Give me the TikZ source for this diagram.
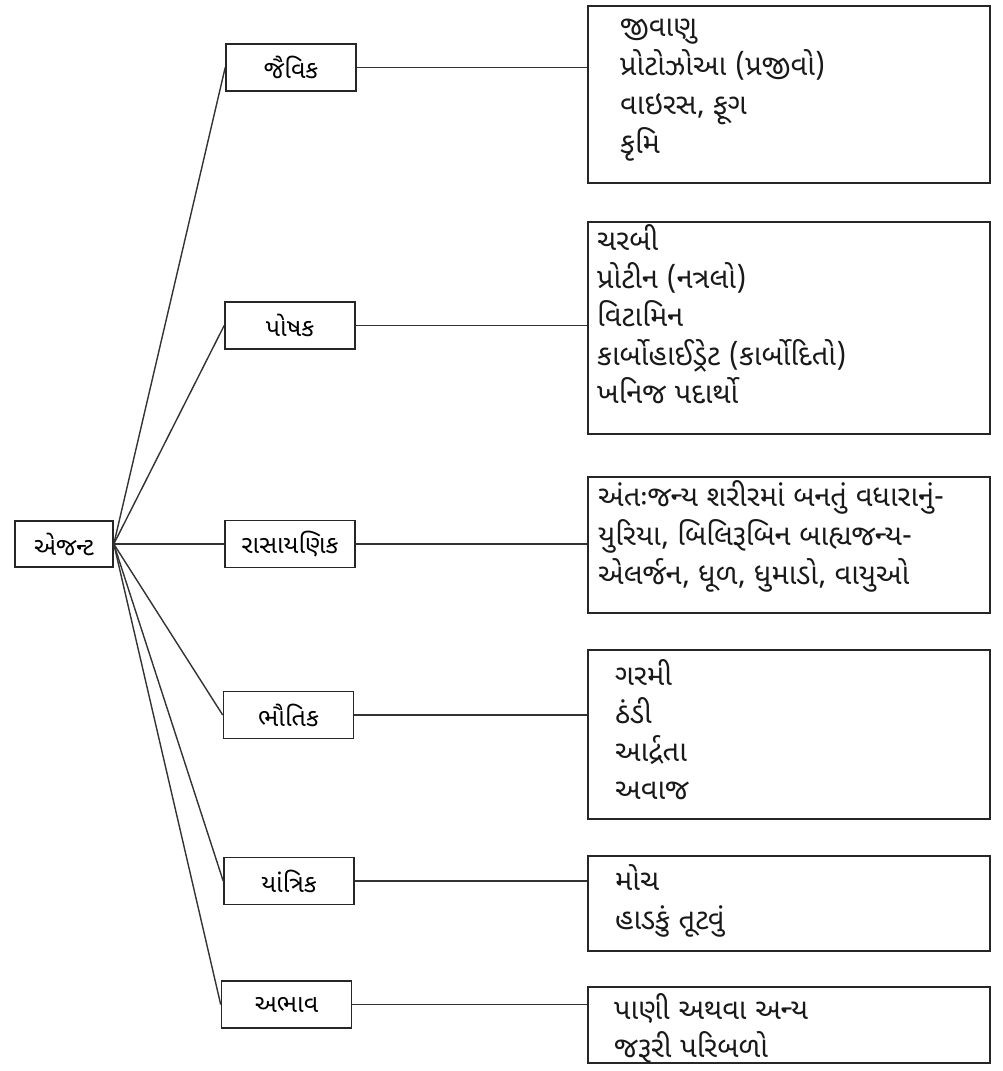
\documentclass[tikz,border=0pt]{standalone}
\usepackage{fontspec}
\newfontfamily\guj[Script=Gujarati]{Noto Sans Gujarati UI}
\begin{document}
\begin{tikzpicture}[x=1pt,y=-1pt,
  ink/.style={draw=black!85},
  catbox/.style={ink,line width=1.6pt,minimum width=130pt,minimum height=47pt,inner sep=0pt,font=\guj\fontsize{25}{30}\selectfont},
  listbox/.style={ink,line width=1.6pt,minimum width=402pt,inner sep=0pt},
  item/.style={anchor=base west,inner sep=0pt,font=\guj\fontsize{29}{34}\selectfont,text=black!90},
  link/.style={draw=black!80,line width=1.4pt}]
\useasboundingbox (0,0) rectangle (1002,1071);
\fill[white] (0,0) rectangle (1002,1071);
% agent
\node[catbox,minimum width=98pt,minimum height=46pt] (agent) at (64,544) {એજન્ટ};
% categories
\node[catbox] (c1) at (291,67.5) {જૈવિક};
\node[catbox] (c2) at (290,325.5) {પોષક};
\node[catbox] (c3) at (290,544) {રાસાયણિક};
\node[catbox] (c4) at (288.5,715) {ભૌતિક};
\node[catbox] (c5) at (289,881) {યાંત્રિક};
\node[catbox] (c6) at (286.5,1004.5) {અભાવ};
% list boxes
\node[listbox,minimum height=177pt] (b1) at (789,94.5) {};
\node[listbox,minimum height=212pt] (b2) at (789,328) {};
\node[listbox,minimum height=136pt] (b3) at (789,545) {};
\node[listbox,minimum height=169pt] (b4) at (789,734.5) {};
\node[listbox,minimum height=95pt] (b5) at (789,903.5) {};
\node[listbox,minimum height=76pt] (b6) at (789,1025) {};
% list texts
\node[item] (t11) at (620,36) {જીવાણુ};
\node[item] (t12) at (620,75) {પ્રોટોઝોઆ (પ્રજીવો)};
\node[item] (t13) at (620,114) {વાઇરસ, ફૂગ};
\node[item] (t14) at (620,153) {કૃમિ};
\node[item] (t21) at (597,250) {ચરબી};
\node[item] (t22) at (597,288) {પ્રોટીન (નત્રલો)};
\node[item] (t23) at (597,326) {વિટામિન};
\node[item] (t24) at (597,365) {કાર્બોહાઈડ્રેટ (કાર્બોદિતો)};
\node[item] (t25) at (597,403) {ખનિજ પદાર્થો};
\node[item] (t31) at (598,506) {અંતઃજન્ય શરીરમાં બનતું વધારાનું-};
\node[item] (t32) at (598,545) {યુરિયા, બિલિરૂબિન બાહ્યજન્ય-};
\node[item] (t33) at (598,584) {એલર્જન, ધૂળ, ધુમાડો, વાયુઓ};
\node[item] (t41) at (615,685) {ગરમી};
\node[item] (t42) at (615,723) {ઠંડી};
\node[item] (t43) at (615,761) {આર્દ્રતા};
\node[item] (t44) at (615,799) {અવાજ};
\node[item] (t51) at (615,890) {મોચ};
\node[item] (t52) at (615,929) {હાડકું તૂટવું};
\node[item] (t61) at (614,1019) {પાણી અથવા અન્ય};
\node[item] (t62) at (614,1057) {જરૂરી પરિબળો};
% connectors
\foreach \c in {c1,c2,c3,c4,c5,c6}{\draw[link] (agent.east) -- (\c.west);}
\draw[link] (c1.east) -- (c1.east -| b1.west);
\draw[link] (c2.east) -- (c2.east -| b2.west);
\draw[link] (c3.east) -- (c3.east -| b3.west);
\draw[link] (c4.east) -- (c4.east -| b4.west);
\draw[link] (c5.east) -- (c5.east -| b5.west);
\draw[link] (c6.east) -- (c6.east -| b6.west);
\end{tikzpicture}
\end{document}
